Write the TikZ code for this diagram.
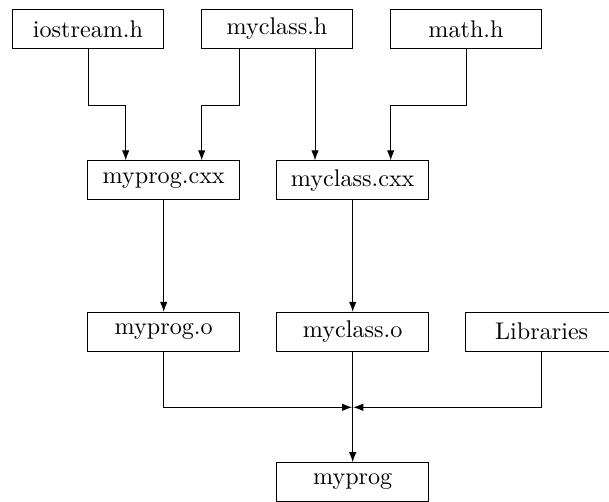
\documentclass[tikz,border=0pt]{standalone}
\usetikzlibrary{arrows.meta,calc}
\begin{document}
\begin{tikzpicture}[x=0.4146pt,y=-0.4146pt,line width=0.4pt,
  box/.style={draw,minimum width=63pt,minimum height=16pt,inner sep=0pt,font=\fontsize{10}{12}\selectfont},
  arr/.style={-{Latex[length=4.2pt,width=3.1pt]}}]
\clip (0,0) rectangle (609,502);
\useasboundingbox (0,0) rectangle (609,502);
% nodes
\node[box] (iostream) at (88,29) {iostream.h};
\node[box] (myclassh) at (277,29) {myclass.h};
\node[box] (mathh) at (466,29) {math.h};
\node[box] (myprogcxx) at (163.7,180.2) {myprog.cxx};
\node[box] (myclasscxx) at (352.7,180.2) {myclass.cxx};
\node[box] (myprogo) at (163.7,331.7) {myprog.o};
\node[box] (myclasso) at (352.7,331.7) {myclass.o};
\node[box] (libs) at (541.7,331.7) {Libraries};
\node[box] (myprog) at (352.7,482) {myprog};
% helper coordinates
\coordinate (rowA) at (0,105);
\coordinate (merge) at (352.7,407.3);
\coordinate (mh1) at ($(myclassh.south)+(-38,0)$);
\coordinate (mh2) at ($(myclassh.south)+(38,0)$);
\coordinate (pc1) at ($(myprogcxx.north)+(-38,0)$);
\coordinate (pc2) at ($(myprogcxx.north)+(38,0)$);
\coordinate (cc2) at ($(myclasscxx.north)+(38,0)$);
% connectors
\draw[arr] (iostream.south) -- (iostream.south |- rowA) -| (pc1);
\draw[arr] (mh1) -- (mh1 |- rowA) -| (pc2);
\draw[arr] (mh2) -- (mh2 |- myclasscxx.north);
\draw[arr] (mathh.south) -- (mathh.south |- rowA) -| (cc2);
\draw[arr] (myprogcxx.south) -- (myprogo.north);
\draw[arr] (myclasscxx.south) -- (myclasso.north);
\draw[arr,shorten >=0.2pt] (myprogo.south) |- (merge);
\draw[arr,shorten >=0.2pt] (libs.south) |- (merge);
\draw[arr] (myclasso.south) -- (myprog.north);
\end{tikzpicture}
\end{document}
